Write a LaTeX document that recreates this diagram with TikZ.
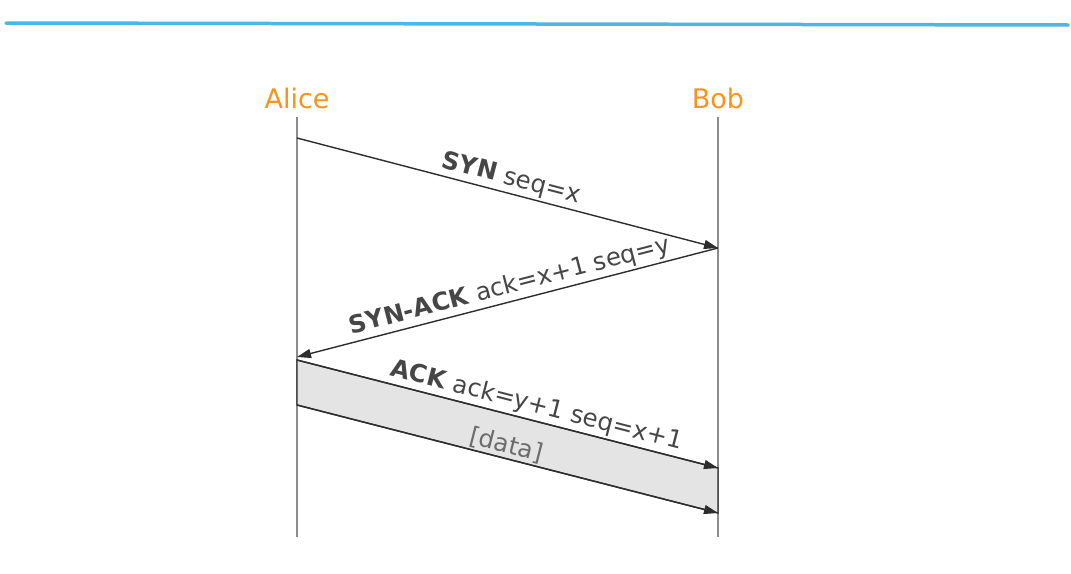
\documentclass[tikz,border=0pt]{standalone}
\usepackage{fontspec}
\setmainfont{DejaVu Sans}
\usetikzlibrary{arrows.meta}
\definecolor{skyline}{RGB}{77,182,232}
\definecolor{who}{RGB}{247,148,29}
\definecolor{msgline}{RGB}{45,45,45}
\definecolor{msgtext}{RGB}{70,70,70}
\definecolor{lifeline}{RGB}{140,140,140}
\definecolor{band}{RGB}{228,228,228}
\tikzset{
  actor/.style={text=who, font=\fontsize{27}{32}\selectfont},
  life/.style={draw=lifeline, line width=1.5pt},
  msg/.style={draw=msgline, line width=1.4pt, -{Triangle[length=14pt,width=9pt]}},
  msglabel/.style={text=msgtext, font=\fontsize{24.5}{29}\selectfont, sloped, above, inner sep=2.5pt},
}
\begin{document}
\begin{tikzpicture}[x=1pt,y=-1pt]
\useasboundingbox (0,0) rectangle (1071,573);
% top rule
\coordinate (rl) at (6,23);
\coordinate (rr) at (1068,25);
\draw[skyline, line width=3.5pt, line cap=round] (rl) -- (rr);
% actors
\node[actor] (alice) at (297,98) {Alice};
\node[actor] (bob) at (718,98) {Bob};
\coordinate (atop) at (297,117);
\coordinate (abot) at (297,537);
\coordinate (btop) at (718,117);
\coordinate (bbot) at (718,537);
\draw[life] (atop) -- (abot);
\draw[life] (btop) -- (bbot);
% message points
\coordinate (s1) at (297,138);
\coordinate (s2) at (718,248);
\coordinate (s3) at (297,357);
\coordinate (k1) at (297,360);
\coordinate (k2) at (718,468);
\coordinate (d1) at (297,405);
\coordinate (d2) at (718,513);
% data band
\filldraw[fill=band, draw=msgline, line width=1.4pt] (k1) -- (k2) -- (d2) -- (d1) -- cycle;
\draw[msg] (s1) -- node[msglabel] (synl) {\textbf{SYN} seq=x} (s2);
\draw[msg] (s2) -- node[msglabel, pos=0.485] (synackl) {\textbf{SYN-ACK} ack=x+1 seq=y} (s3);
\draw[msg] (k1) -- node[msglabel, pos=0.56] (ackl) {\textbf{ACK} ack=y+1 seq=x+1} (k2);
\draw[msg] (d1) -- node[msglabel, pos=0.49, text=msgtext!80, inner sep=1.5pt] (datal) {[data]} (d2);
\end{tikzpicture}
\end{document}
